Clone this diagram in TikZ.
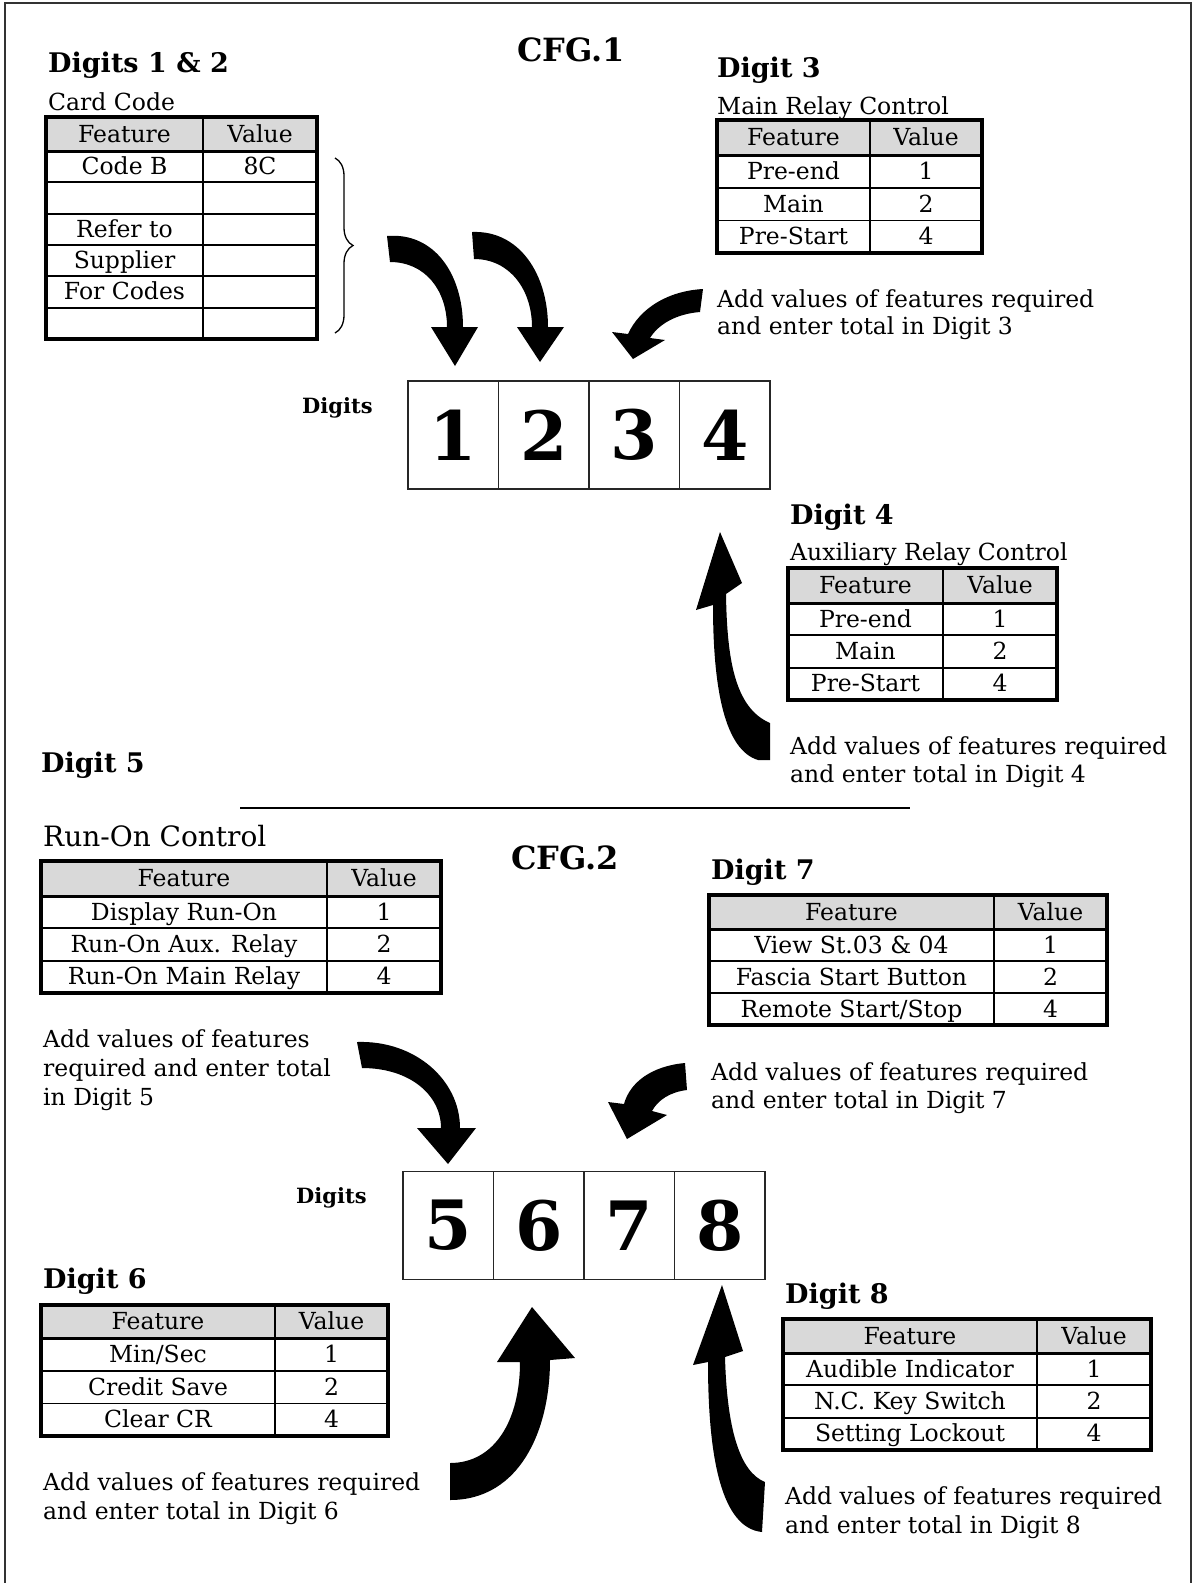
\documentclass[tikz,border=0pt]{standalone}
\usepackage{fontspec}
\setmainfont{DejaVu Serif}
\usetikzlibrary{decorations.pathreplacing}
\definecolor{headgray}{HTML}{D9D9D9}
\tikzset{
  txt/.style={anchor=base west, inner sep=0pt, font=\fontsize{23.5}{28}\selectfont},
  bigtxt/.style={anchor=base west, inner sep=0pt, font=\fontsize{28}{32}\selectfont},
  headtxt/.style={anchor=base west, inner sep=0pt, font=\fontsize{27}{30}\selectfont\bfseries},
  cfgtxt/.style={anchor=base west, inner sep=0pt, font=\fontsize{32}{36}\selectfont\bfseries},
  dlabel/.style={anchor=base west, inner sep=0pt, font=\fontsize{21}{24}\selectfont\bfseries},
  celltxt/.style={anchor=base, inner sep=0pt, font=\fontsize{23.5}{28}\selectfont},
  digitcell/.style={draw=black!85, line width=1.6pt, minimum width=90.5pt, minimum height=108pt, inner sep=0pt, font=\fontsize{68}{68}\selectfont\bfseries},
  tabouter/.style={line width=3.5pt},
  tabhead/.style={line width=3pt},
  tabinner/.style={line width=1.8pt},
  blockarrow/.style={fill=black, draw=none},
  frameline/.style={line width=1.5pt, draw=black!80},
}
% #1 name, #2 x0, #3 xc, #4 x1, #5 ytop, #6 yhead, #7 row height, #8 rows
\newcommand{\fvtable}[8]{%
  \fill[headgray] (#2,#5) rectangle (#4,#6);
  \node[celltxt] (#1hf) at ({(#2+#3)/2},{(#5+#6)/2+8}) {Feature};
  \node[celltxt] (#1hv) at ({(#3+#4)/2},{(#5+#6)/2+8}) {Value};
  \foreach \f/\v [count=\i] in {#8} {
    \node[celltxt] (#1f\i) at ({(#2+#3)/2},{#6+(\i-0.5)*#7+8}) {\f};
    \node[celltxt] (#1v\i) at ({(#3+#4)/2},{#6+(\i-0.5)*#7+8}) {\v};
    \ifnum\i>1 \draw[tabinner] (#2,{#6+(\i-1)*#7}) -- (#4,{#6+(\i-1)*#7});\fi
    \xdef\nrows{\i}
  }
  \draw[tabinner] (#3,#5) -- (#3,{#6+\nrows*#7});
  \draw[tabhead] (#2,#6) -- (#4,#6);
  \draw[tabouter] (#2,#5) rectangle (#4,{#6+\nrows*#7});
}
\begin{document}
\begin{tikzpicture}[x=1pt,y=-1pt]
\useasboundingbox (0,0) rectangle (1194,1583);
\fill[white] (0,0) rectangle (1194,1583);
% frame
\draw[frameline] (5,1583) -- (5,3) -- (1191,3) -- (1191,1583);

% ---------------- CFG.1 ----------------
\node[cfgtxt] (cfg1) at (517,61) {CFG.1};
\node[headtxt] (h12) at (48,72) {Digits 1 \& 2};
\node[txt] (cardcode) at (48,110) {Card Code};
\fvtable{ta}{46}{203}{317}{117}{151}{31.33}{Code B/8C, {}/{}, Refer to/{}, Supplier/{}, For Codes/{}, {}/{}}
\draw[line width=1.3pt, decorate, decoration={brace, amplitude=18pt}] (335,158) -- (335,333);

\node[headtxt] (h3) at (717,77) {Digit 3};
\node[txt] (mrc) at (717,114) {Main Relay Control};
\fvtable{tb}{717}{870}{982}{120}{155}{32.7}{Pre-end/1, Main/2, Pre-Start/4}
\node[txt] (add3a) at (717,307) {Add values of features required};
\node[txt] (add3b) at (717,334) {and enter total in Digit 3};

\node[dlabel] (digitsA) at (302,413) {Digits};
\node[digitcell] (d1) at (453.25,435) {1};
\node[digitcell] (d2) at (543.75,435) {2};
\node[digitcell] (d3) at (634.25,435) {3};
\node[digitcell] (d4) at (724.75,435) {4};

% arrows CFG.1
\fill[blockarrow] (387,236) .. controls (435,232) and (463,275) .. (463,327)
  -- (478,327) -- (455,366) -- (431,327) -- (447,327)
  .. controls (447,290) and (425,262) .. (390,262) -- cycle;
\fill[blockarrow] (472,232) .. controls (520,230) and (548,275) .. (548,327)
  -- (564,327) -- (540,362) -- (517,327) -- (532,327)
  .. controls (532,290) and (510,259) .. (474,259) -- cycle;
\fill[blockarrow] (703,289) .. controls (668,291) and (640,308) .. (628,334)
  -- (612,332) -- (633,359) -- (665,340) -- (650,338)
  .. controls (658,325) and (675,314) .. (700,312) -- cycle;
\fill[blockarrow] (720,532) -- (742,583) -- (726,594)
  .. controls (727,660) and (735,708) .. (770,723) -- (770,760) -- (758,760)
  .. controls (725,750) and (713,690) .. (713,605) -- (696,610) -- cycle;

\node[headtxt] (h4) at (790,524) {Digit 4};
\node[txt] (arc) at (790,560) {Auxiliary Relay Control};
\fvtable{tc}{788}{943}{1057}{568}{603}{32.3}{Pre-end/1, Main/2, Pre-Start/4}
\node[txt] (add4a) at (790,754) {Add values of features required};
\node[txt] (add4b) at (790,782) {and enter total in Digit 4};

% ---------------- CFG.2 ----------------
\node[headtxt] (h5) at (41,772) {Digit 5};
\draw[line width=2pt] (240,808) -- (910,808);
\node[bigtxt] (roc) at (43,846) {Run-On Control};
\fvtable{td}{41}{327}{441}{861}{896}{32.3}{Display Run-On/1, Run-On Aux. Relay/2, Run-On Main Relay/4}
\node[txt] (add5a) at (43,1047) {Add values of features};
\node[txt] (add5b) at (43,1076) {required and enter total};
\node[txt] (add5c) at (43,1105) {in Digit 5};

\node[cfgtxt] (cfg2) at (511,869) {CFG.2};
\node[headtxt] (h7) at (711,879) {Digit 7};
\fvtable{te}{709}{994}{1107}{895}{929}{32}{View St.03 \& 04/1, Fascia Start Button/2, {Remote Start/Stop}/4}
\node[txt] (add7a) at (711,1080) {Add values of features required};
\node[txt] (add7b) at (711,1108) {and enter total in Digit 7};

\node[dlabel] (digitsB) at (296,1203) {Digits};
\node[digitcell] (d5) at (448.25,1225.5) {5};
\node[digitcell] (d6) at (538.75,1225.5) {6};
\node[digitcell] (d7) at (629.25,1225.5) {7};
\node[digitcell] (d8) at (719.75,1225.5) {8};

\fill[blockarrow] (357,1042) .. controls (415,1040) and (460,1080) .. (460,1128)
  -- (476,1128) -- (448,1164) -- (417,1128) -- (441,1128)
  .. controls (441,1095) and (410,1068) .. (362,1068) -- cycle;
\fill[blockarrow] (685,1063) .. controls (652,1066) and (630,1082) .. (624,1104)
  -- (608,1102) -- (627,1139) -- (667,1115) -- (652,1111)
  .. controls (658,1100) and (670,1092) .. (687,1090) -- cycle;
\fill[blockarrow] (450,1500) .. controls (520,1500) and (550,1430) .. (550,1360)
  -- (575,1358) -- (532,1307) -- (497,1362) -- (520,1362)
  .. controls (520,1420) and (495,1463) .. (450,1463) -- cycle;
\fill[blockarrow] (722,1285) -- (743,1351) -- (725,1357)
  .. controls (727,1430) and (740,1472) .. (765,1482) -- (762,1532)
  .. controls (722,1528) and (708,1460) .. (708,1362) -- (693,1365) -- cycle;

\node[headtxt] (h6) at (43,1288) {Digit 6};
\fvtable{tf}{41}{275}{388}{1305}{1338}{32.7}{{Min/Sec}/1, Credit Save/2, Clear CR/4}
\node[txt] (add6a) at (43,1490) {Add values of features required};
\node[txt] (add6b) at (43,1519) {and enter total in Digit 6};

\node[headtxt] (h8) at (785,1303) {Digit 8};
\fvtable{tg}{783}{1037}{1151}{1319}{1353}{32.3}{Audible Indicator/1, N.C. Key Switch/2, Setting Lockout/4}
\node[txt] (add8a) at (785,1504) {Add values of features required};
\node[txt] (add8b) at (785,1533) {and enter total in Digit 8};
\end{tikzpicture}
\end{document}
